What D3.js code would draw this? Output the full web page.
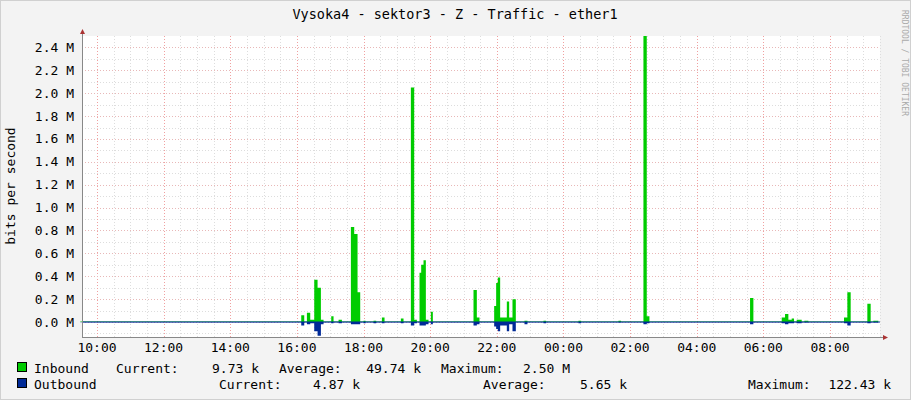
<!DOCTYPE html>
<html><head><meta charset="utf-8">
<script src="https://cdn.jsdelivr.net/npm/d3@7"></script>
<style>body{margin:0;background:#f3f3f3}svg{display:block}text{font-family:"DejaVu Sans Mono",monospace;}</style>
</head><body><svg id="c" width="911" height="400"></svg>
<script>
// time in hours (values >24 are next day), inbound and outbound in Mbit/s
const times    = [9.5,16.13,16.22,16.30,16.40,16.52,16.62,16.72,16.80,17.03,17.10,17.25,17.35,17.62,17.72,17.82,17.90,18.00,18.06,18.30,18.38,18.55,18.63,19.12,19.20,19.42,19.52,19.60,19.68,19.73,19.80,19.87,19.95,20.02,20.08,21.30,21.40,21.48,21.56,21.92,21.98,22.03,22.10,22.30,22.37,22.47,22.57,22.83,22.92,23.40,23.48,24.45,24.53,25.65,25.73,26.40,26.50,26.58,26.65,29.60,29.70,30.55,30.65,30.75,30.85,30.92,31.00,31.15,31.23,31.35,31.43,32.42,32.52,32.62,33.12,33.22,33.30,33.45];
const inbound  = [0.005,0.06,0.005,0.08,0.02,0.37,0.30,0.02,0.005,0.05,0.005,0.02,0.005,0.83,0.77,0.26,0.005,0.01,0.005,0.01,0.005,0.04,0.005,0.03,0.005,2.05,0.02,0.005,0.43,0.50,0.54,0.02,0.005,0.09,0.005,0.28,0.04,0.005,0.005,0.14,0.34,0.39,0.04,0.18,0.04,0.20,0.005,0.01,0.005,0.01,0.005,0.01,0.005,0.01,0.005,2.50,0.05,0.005,0.005,0.21,0.005,0.04,0.07,0.02,0.03,0.005,0.02,0.005,0.01,0.005,0.005,0.04,0.26,0.005,0.16,0.005,0.01,0.01];
const outbound = [0.003,0.03,0.003,0.02,0.01,0.08,0.12,0.02,0.003,0.01,0.003,0.01,0.003,0.02,0.02,0.02,0.003,0.01,0.003,0.01,0.003,0.01,0.003,0.01,0.003,0.03,0.01,0.003,0.03,0.03,0.03,0.02,0.003,0.02,0.003,0.03,0.02,0.003,0.003,0.04,0.06,0.08,0.03,0.08,0.02,0.08,0.003,0.02,0.003,0.01,0.003,0.01,0.003,0.005,0.003,0.02,0.01,0.003,0.003,0.02,0.003,0.01,0.02,0.01,0.01,0.003,0.01,0.003,0.005,0.003,0.003,0.01,0.03,0.003,0.01,0.003,0.005,0.005];
const yTicks = [0,0.2,0.4,0.6,0.8,1.0,1.2,1.4,1.6,1.8,2.0,2.2,2.4];
const xTicks = [10,12,14,16,18,20,22,24,26,28,30,32];
const legend = [
 {name:"Inbound", color:"#00cc00", cur:"9.73 k", avg:"49.74 k", max:"2.50 M"},
 {name:"Outbound", color:"#002a97", cur:"4.87 k", avg:"5.65 k", max:"122.43 k"}];

const svg=d3.select("#c");
const L=82,R=880,T=36,B=337;
const x=d3.scaleLinear().domain([9.55,33.5]).range([L,R]);
const y=d3.scaleLinear().domain([-0.131,2.5]).range([B,36]);
svg.append("rect").attr("width",911).attr("height",400).attr("fill","#f3f3f3");
svg.append("rect").attr("x",0.5).attr("y",0.5).attr("width",910).attr("height",399).attr("fill","none").attr("stroke","#d0d0d0");
svg.append("rect").attr("x",L).attr("y",T).attr("width",R-L).attr("height",B-T).attr("fill","#fff");
const g=svg.append("g");
for(let h=10;h<=33.5;h+=0.5){ if(h%2) g.append("line").attr("x1",Math.round(x(h))+.5).attr("x2",Math.round(x(h))+.5).attr("y1",T).attr("y2",B).attr("stroke","#ddd").attr("stroke-dasharray","1,2");}
for(let v=-0.1;v<=2.45;v+=0.1){ const r=Math.round(v*10); if(r%2) g.append("line").attr("x1",L).attr("x2",R).attr("y1",Math.round(y(v))+.5).attr("y2",Math.round(y(v))+.5).attr("stroke","#ddd").attr("stroke-dasharray","1,2");}
xTicks.forEach(h=>g.append("line").attr("x1",Math.round(x(h))+.5).attr("x2",Math.round(x(h))+.5).attr("y1",T).attr("y2",B).attr("stroke","#f0a0a0").attr("stroke-dasharray","1,2"));
yTicks.forEach(v=>g.append("line").attr("x1",L).attr("x2",R).attr("y1",Math.round(y(v))+.5).attr("y2",Math.round(y(v))+.5).attr("stroke","#e8b8b8").attr("stroke-dasharray","1,2"));
const data=times.map((t,i)=>({t,i:inbound[i],o:outbound[i]}));
svg.append("path").datum(data).attr("fill","#00cc00").attr("d",d3.area().curve(d3.curveStepAfter).x(d=>x(d.t)).y0(y(0)).y1(d=>y(d.i)));
svg.append("path").datum(data).attr("fill","#002a97").attr("d",d3.area().curve(d3.curveStepAfter).x(d=>x(d.t)).y0(y(0)).y1(d=>y(-d.o)));
svg.append("line").attr("x1",L).attr("x2",R).attr("y1",y(0)).attr("y2",y(0)).attr("stroke","#002a97").attr("stroke-width",1);
svg.append("line").attr("x1",L+.5).attr("x2",L+.5).attr("y1",B).attr("y2",T-4).attr("stroke","#888");
svg.append("path").attr("d",`M${L-2},${T-2}L${L+.5},${T-7}L${L+3},${T-2}Z`).attr("fill","#a33");
svg.append("line").attr("x1",L).attr("x2",R+4).attr("y1",B+.5).attr("y2",B+.5).attr("stroke","#888");
svg.append("path").attr("d",`M${R+3},${B-2}L${R+8},${B+.5}L${R+3},${B+3}Z`).attr("fill","#a33");
const fmtY=d3.format(".1f");
yTicks.forEach(v=>svg.append("text").attr("x",74).attr("y",y(v)+4.5).attr("text-anchor","end").attr("font-size",13).text(fmtY(v)+" M"));
xTicks.forEach(h=>svg.append("text").attr("x",x(h)).attr("y",352).attr("text-anchor","middle").attr("font-size",13).text(String(h%24).padStart(2,"0")+":00"));
svg.append("text").attr("x",455).attr("y",19).attr("text-anchor","middle").attr("font-size",13.5).text("Vysoka4 - sektor3 - Z - Traffic - ether1");
svg.append("text").attr("transform","translate(15,186) rotate(-90)").attr("text-anchor","middle").attr("font-size",13).text("bits per second");
svg.append("text").attr("transform","translate(902,10) rotate(90)").attr("font-size",8).attr("fill","#aaa").text("RRDTOOL / TOBI OETIKER");
const rows=[[ [34,"Inbound"],[116,"Current:"],[259,"9.73 k",1],[279,"Average:"],[421,"49.74 k",1],[441,"Maximum:"],[570,"2.50 M",1] ],
            [ [34,"Outbound"],[219,"Current:"],[360,"4.87 k",1],[483,"Average:"],[627,"5.65 k",1],[748,"Maximum:"],[891,"122.43 k",1] ]];
legend.forEach((l,k)=>{const yy=373+k*16;
 svg.append("rect").attr("x",17.5).attr("y",yy-10.5).attr("width",9).attr("height",9).attr("fill",l.color).attr("stroke","#000");
 rows[k].forEach(([xx,t,e])=>svg.append("text").attr("x",xx).attr("y",yy).attr("font-size",13).attr("text-anchor",e?"end":"start").text(t));
});
</script></body></html>
